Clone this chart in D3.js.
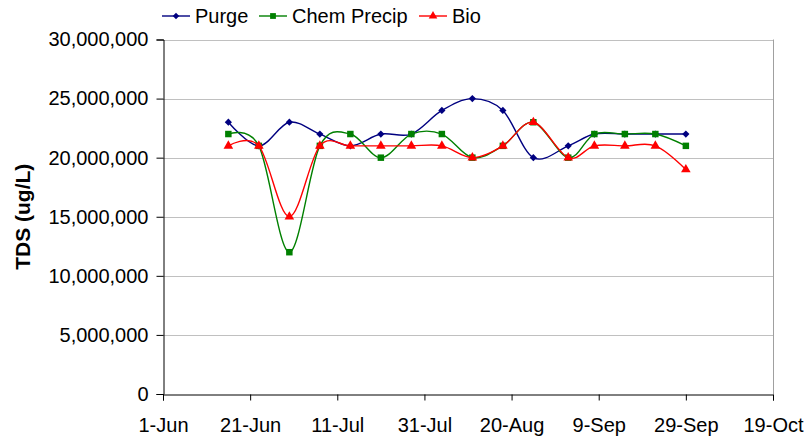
<!DOCTYPE html>
<html>
<head>
<meta charset="utf-8">
<script src="https://cdn.jsdelivr.net/npm/d3@7"></script>
<style>
  html, body { margin: 0; padding: 0; background: #fff; }
  svg { display: block; font-family: "Liberation Sans", Arial, sans-serif; }
</style>
</head>
<body>
<svg id="chart" width="808" height="440"></svg>
<script>
// Sampling dates (weekly, with one shifted sample in early September)
const sampleDates = [
  "2007-06-16", "2007-06-23", "2007-06-30", "2007-07-07", "2007-07-14",
  "2007-07-21", "2007-07-28", "2007-08-04", "2007-08-11", "2007-08-18",
  "2007-08-25", "2007-09-02", "2007-09-08", "2007-09-15", "2007-09-22",
  "2007-09-29"
];

// TDS (ug/L) per treatment
const purge = [23000000, 21000000, 23000000, 22000000, 21000000, 22000000, 22000000, 24000000,
               25000000, 24000000, 20000000, 21000000, 22000000, 22000000, 22000000, 22000000];
const chemPrecip = [22000000, 21000000, 12000000, 21000000, 22000000, 20000000, 22000000, 22000000,
                    20000000, 21000000, 23000000, 20000000, 22000000, 22000000, 22000000, 21000000];
const bio = [21000000, 21000000, 15000000, 21000000, 21000000, 21000000, 21000000, 21000000,
             20000000, 21000000, 23000000, 20000000, 21000000, 21000000, 21000000, 19000000];

const seriesNames = ["Purge", "Chem Precip", "Bio"];

// Axis ticks
const xTickDates = ["2007-06-01", "2007-06-21", "2007-07-11", "2007-07-31",
                    "2007-08-20", "2007-09-09", "2007-09-29", "2007-10-19"];
const yTicks = [0, 5000000, 10000000, 15000000, 20000000, 25000000, 30000000];
const yTitle = "TDS (ug/L)";

const parse = d3.utcParse("%Y-%m-%d");
const svg = d3.select("#chart");
const W = 808, H = 440;
const margin = { top: 39.5, right: 35, bottom: 46, left: 163 };

const x = d3.scaleUtc()
  .domain([parse(xTickDates[0]), parse(xTickDates[xTickDates.length - 1])])
  .range([margin.left, W - margin.right]);
const y = d3.scaleLinear()
  .domain([0, 30000000])
  .range([H - margin.bottom, margin.top]);

// Diamond drawn as a square turned 45 degrees
const styles = [
  { color: "#000080", marker: d3.symbolSquare, size: 26, rotate: 45 },
  { color: "#008000", marker: d3.symbolSquare, size: 42, rotate: 0 },
  { color: "#ff0000", marker: d3.symbolTriangle, size: 40, rotate: 0 }
];
const values = [purge, chemPrecip, bio];

// Horizontal gridlines
svg.append("g")
  .selectAll("line")
  .data(yTicks.filter(v => v > 0))
  .join("line")
  .attr("x1", margin.left).attr("x2", W - margin.right)
  .attr("y1", d => Math.round(y(d)) + 0.5).attr("y2", d => Math.round(y(d)) + 0.5)
  .attr("stroke", "#c0c0c0").attr("stroke-width", 1);

// Right border of the plot area
svg.append("line")
  .attr("x1", W - margin.right + 0.5).attr("x2", W - margin.right + 0.5)
  .attr("y1", margin.top).attr("y2", H - margin.bottom)
  .attr("stroke", "#a0a0a0").attr("stroke-width", 1);

// Y axis
const yAxis = svg.append("g")
  .attr("transform", `translate(${margin.left + 0.5},0)`)
  .call(d3.axisLeft(y).tickValues(yTicks).tickSize(7).tickPadding(8)
    .tickFormat(d3.format(",")));
yAxis.selectAll("text").attr("font-size", 20).attr("fill", "#000")
  .attr("font-family", "'Liberation Sans', Arial, sans-serif");
yAxis.selectAll("line, path").attr("stroke", "#000");

// X axis
const xAxis = svg.append("g")
  .attr("transform", `translate(0,${H - margin.bottom + 0.5})`)
  .call(d3.axisBottom(x).tickValues(xTickDates.map(parse)).tickSize(6).tickPadding(17)
    .tickFormat(d3.utcFormat("%-d-%b")));
xAxis.selectAll("text").attr("font-size", 20).attr("fill", "#000")
  .attr("font-family", "'Liberation Sans', Arial, sans-serif");
xAxis.selectAll("line, path").attr("stroke", "#000");

// Y axis title
svg.append("text")
  .attr("transform", `translate(23,${(margin.top + H - margin.bottom) / 2}) rotate(-90)`)
  .attr("text-anchor", "middle")
  .attr("dy", "0.35em")
  .attr("font-size", 21).attr("font-weight", "bold")
  .text(yTitle);

// Smoothed series lines and markers
const line = d3.line()
  .x(d => x(d.date)).y(d => y(d.v))
  .curve(d3.curveCardinal.tension(0));

const dates = sampleDates.map(parse);
values.forEach((vals, i) => {
  const pts = vals.map((v, j) => ({ date: dates[j], v }));
  const s = styles[i];
  const g = svg.append("g");
  g.append("path").datum(pts)
    .attr("d", line).attr("fill", "none")
    .attr("stroke", s.color).attr("stroke-width", 1.4);
  g.selectAll("path.m").data(pts).join("path")
    .attr("class", "m")
    .attr("transform", d => `translate(${x(d.date)},${y(d.v)}) rotate(${s.rotate})`)
    .attr("d", d3.symbol(s.marker, s.size))
    .attr("fill", s.color);
});

// Legend
const legendX = [162, 259, 419];
seriesNames.forEach((name, i) => {
  const s = styles[i];
  const g = svg.append("g").attr("transform", `translate(${legendX[i]},16)`);
  g.append("line").attr("x1", 0).attr("x2", 28).attr("y1", 0).attr("y2", 0)
    .attr("stroke", s.color).attr("stroke-width", 1.4);
  g.append("path").attr("transform", `translate(14,0) rotate(${s.rotate})`)
    .attr("d", d3.symbol(s.marker, s.size * 0.8))
    .attr("fill", s.color);
  g.append("text").attr("x", 33).attr("y", 7)
    .attr("font-size", 20).text(name);
});
</script>
</body>
</html>
